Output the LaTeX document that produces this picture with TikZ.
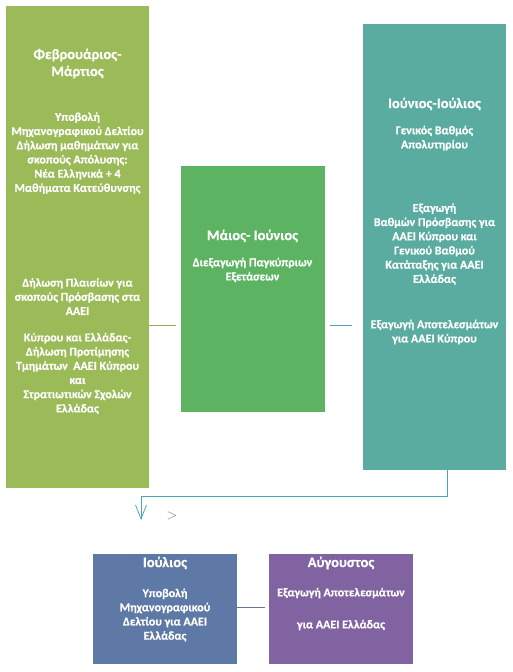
\documentclass[tikz,border=0pt]{standalone}
\usepackage{fontspec}
\setmainfont{Carlito}[BoldFont={Carlito Bold}, BoldFeatures={FakeBold=0.4}]
\usetikzlibrary{positioning, arrows.meta, calc}

\definecolor{febgreen}{RGB}{155,187,89}
\definecolor{maygreen}{RGB}{92,180,98}
\definecolor{junteal}{RGB}{90,172,160}
\definecolor{julblue}{RGB}{94,121,166}
\definecolor{augpurple}{RGB}{128,99,160}
\definecolor{olivelink}{RGB}{150,170,90}
\definecolor{teallink}{RGB}{75,165,190}
\definecolor{greylink}{RGB}{100,115,150}

\tikzset{
	phase/.style={rectangle, draw=none, inner sep=0pt, anchor=north west},
	head/.style={text=white, align=center, font=\bfseries\fontsize{14.5}{17}\selectfont},
	body/.style={text=white, align=center, font=\bfseries\fontsize{12}{14.2}\selectfont},
	link/.style={line width=0.8pt}
}

\begin{document}
\begin{tikzpicture}[x=1pt, y=-1pt]
	\useasboundingbox (0,0) rectangle (512,672);
	% boxes
	\node[phase, fill=febgreen, minimum width=143pt, minimum height=482pt] (feb) at (6,6) {};
	\node[phase, fill=maygreen, minimum width=144pt, minimum height=246pt] (may) at (181,166) {};
	\node[phase, fill=junteal, minimum width=143pt, minimum height=446pt] (jun) at (363,24) {};
	\node[phase, fill=julblue, minimum width=144pt, minimum height=110pt] (jul) at (93,554) {};
	\node[phase, fill=augpurple, minimum width=144pt, minimum height=110pt] (aug) at (269,554) {};
	% February - March
	\node[head] (febhead) at (77.5,63.5) {Φεβρουάριος-\\Μάρτιος};
	\node[body] (febplan) at (77.5,153) {Υποβολή\\Μηχανογραφικού Δελτίου\\Δήλωση μαθημάτων για\\σκοπούς Απόλυσης:\\Νέα Ελληνικά + 4\\Μαθήματα Κατεύθυνσης};
	\node[body] (febframe) at (77.5,296.5) {Δήλωση Πλαισίων για\\σκοπούς Πρόσβασης στα\\ΑΑΕΙ};
	\node[body] (febpref) at (77.5,373.5) {Κύπρου και Ελλάδας-\\Δήλωση Προτίμησης\\Τμημάτων\ \ ΑΑΕΙ Κύπρου\\και\\Στρατιωτικών Σχολών\\Ελλάδας};
	% May - June
	\node[head] (mayhead) at (252.5,236) {Μάιος- Ιούνιος};
	\node[body] (maybody) at (252.5,270) {Διεξαγωγή Παγκύπριων\\Εξετάσεων};
	% June - July
	\node[head] (junhead) at (434.5,104) {Ιούνιος-Ιούλιος};
	\node[body] (jungrade) at (434.5,138) {Γενικός Βαθμός\\Απολυτηρίου};
	\node[body] (junaccess) at (434.5,244) {Εξαγωγή\\Βαθμών Πρόσβασης για\\ΑΑΕΙ Κύπρου και\\Γενικού Βαθμού\\Κατάταξης για ΑΑΕΙ\\Ελλάδας};
	\node[body] (junresult) at (434.5,332) {Εξαγωγή Αποτελεσμάτων\\για ΑΑΕΙ Κύπρου};
	% July
	\node[head] (julhead) at (165,563) {Ιούλιος};
	\node[body] (julbody) at (165,615) {Υποβολή\\Μηχανογραφικού\\Δελτίου για ΑΑΕΙ\\Ελλάδας};
	% August
	\node[head] (aughead) at (341,563) {Αύγουστος};
	\node[body] (augresult) at (341,593) {Εξαγωγή Αποτελεσμάτων};
	\node[body] (augcyprus) at (341,625) {για ΑΑΕΙ Ελλάδας};
	% connectors
	\coordinate (midrow) at (0,325);
	\draw[link, olivelink, shorten >=5pt] (feb.east |- midrow) -- (may.west |- midrow);
	\draw[link, teallink, shorten <=5pt, shorten >=11pt] (may.east |- midrow) -- (jun.west |- midrow);
	\coordinate (bend) at (141,496);
	\coordinate (tip) at (141,520);
	\draw[link, teallink, -{Straight Barb[length=14pt, width=11pt]}] ([xshift=12.5pt]jun.south) |- (bend) -- (tip);
	\node[text=greylink, font=\Large] (more) at (172,516) {$>$};
	\draw[link, greylink, shorten >=4pt] (jul.east |- 0,607) -- (aug.west |- 0,607);
\end{tikzpicture}
\end{document}
